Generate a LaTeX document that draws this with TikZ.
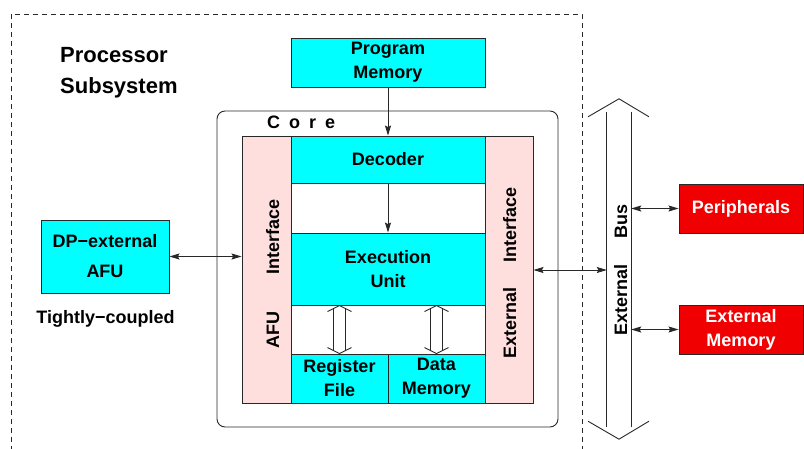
\documentclass[tikz,border=0pt]{standalone}
\usepackage{fontspec}
\setmainfont{Liberation Sans}
\usetikzlibrary{arrows.meta}
\definecolor{cy}{RGB}{0,255,255}
\definecolor{pk}{RGB}{255,222,222}
\definecolor{rd}{RGB}{240,0,0}
\definecolor{ln}{RGB}{40,40,40}
\begin{document}
\begin{tikzpicture}[x=1pt,y=-1pt,
 every node/.style={font=\fontsize{18}{24}\selectfont\bfseries},
 blk/.style={draw=ln, line width=0.9pt, inner sep=0pt, align=center},
 cyblk/.style={blk, fill=cy},
 pkblk/.style={blk, fill=pk},
 rdblk/.style={blk, fill=rd, text=white},
 lbl/.style={inner sep=0pt},
 vlbl/.style={inner sep=0pt, rotate=90, anchor=base},
 conn/.style={draw=ln, line width=0.9pt},
 arr/.style={conn, -{Stealth[length=10pt,width=6pt,inset=1.5pt]}},
 darr/.style={conn, {Stealth[length=10pt,width=6pt,inset=1.5pt]}-{Stealth[length=10pt,width=6pt,inset=1.5pt]}},
 hollow/.style={draw=ln, line width=0.8pt}
]
\useasboundingbox[fill=white] (0,0) rectangle (804,448);

% processor subsystem frame
\draw[ln, line width=0.8pt, dash pattern=on 5pt off 4pt] (11,460) -- (11,14) -- (582,14) -- (582,460);
\node[lbl, anchor=base west, font=\fontsize{22}{28}\selectfont\bfseries] (ps1) at (60,62.7) {Processor};
\node[lbl, anchor=base west, font=\fontsize{22}{28}\selectfont\bfseries] (ps2) at (60,93) {Subsystem};

% program memory
\node[cyblk, minimum width=194, minimum height=49] (pm) at (388,62.5) {Program\\Memory};

% core
\node[draw=ln, line width=0.9pt, rounded corners=8pt, fill=white, minimum width=341, minimum height=316, inner sep=0pt] (core) at (387.5,269) {};
\node[lbl, anchor=base west] (coret) at (267,128.3) {C\hspace{9pt}o\hspace{9pt}r\hspace{9pt}e};

\node[pkblk, minimum width=49, minimum height=267] (afuif) at (266.5,269.5) {};
\node[pkblk, minimum width=48, minimum height=267] (extif) at (509,269.5) {};
\node[cyblk, minimum width=194, minimum height=47] (dec) at (388,159.5) {Decoder};
\node[cyblk, minimum width=194, minimum height=72] (exec) at (388,269) {Execution\\Unit};
\node[cyblk, minimum width=97, minimum height=49] (rf) at (339.5,378.5) {Register\\File};
\node[cyblk, minimum width=97, minimum height=49] (dm) at (436.5,378.5) {Data\\Memory};

\node[vlbl] (afut1) at (279,236.5) {Interface};
\node[vlbl] (afut2) at (279,329.5) {AFU};
\node[vlbl] (extt1) at (516,225) {Interface};
\node[vlbl] (extt2) at (516,323) {External};

% arrows inside core
\draw[arr] (pm.south) -- (dec.north);
\draw[arr] (dec.south) -- (exec.north);
\foreach \n in {rf,dm} {
  \draw[hollow] ([shift={(-12,-42)}]\n.north) -- ([shift={(0,-48)}]\n.north) -- ([shift={(12,-42)}]\n.north);
  \draw[hollow] ([shift={(-6,-45)}]\n.north) -- ([shift={(-6,-3)}]\n.north);
  \draw[hollow] ([shift={(6,-45)}]\n.north) -- ([shift={(6,-3)}]\n.north);
  \draw[hollow] ([shift={(-12,-6)}]\n.north) -- ([shift={(0,0)}]\n.north) -- ([shift={(12,-6)}]\n.north);
}

% DP-external AFU
\node[cyblk, minimum width=128, minimum height=73] (dpafu) at (105,256.5) {DP\textminus external\\[6pt]AFU};
\node[lbl, anchor=base] (tc) at (105.5,323) {Tightly\textminus coupled};
\draw[darr] (dpafu.east) -- (dpafu.east -| afuif.west);

% external bus
\node[minimum width=24, minimum height=315, inner sep=0pt] (bus) at (619,269.5) {};
\draw[conn] (bus.north west) -- (bus.south west);
\draw[conn] (bus.north east) -- (bus.south east);
\draw[conn] ([shift={(-31,5)}]bus.north) -- ([shift={(0,-13)}]bus.north) -- ([shift={(30,5)}]bus.north);
\draw[conn] ([shift={(-31,-6)}]bus.south) -- ([shift={(0,12)}]bus.south) -- ([shift={(30,-6)}]bus.south);
\node[vlbl] (bust1) at (627,221) {Bus};
\node[vlbl] (bust2) at (627,300) {External};

\draw[darr] ([yshift=-0.5pt]extif.east) -- ([yshift=-0.5pt]extif.east -| bus.west);

% peripherals and external memory
\node[rdblk, minimum width=124, minimum height=49] (peri) at (741,208.5) {Peripherals};
\node[rdblk, minimum width=124, minimum height=49] (extmem) at (741,329.5) {External\\Memory};
\draw[darr] (peri.west -| bus.east) -- (peri.west);
\draw[darr] (extmem.west -| bus.east) -- (extmem.west);
\end{tikzpicture}
\end{document}
